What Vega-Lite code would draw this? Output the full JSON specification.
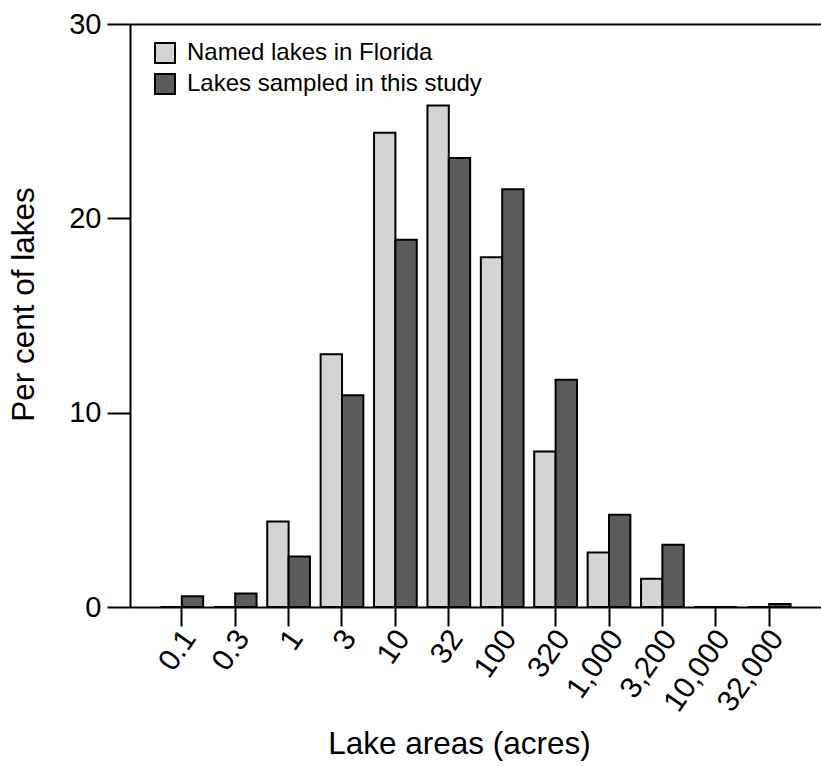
{
  "$schema": "https://vega.github.io/schema/vega-lite/v6.json",
  "width": 691,
  "height": 583,
  "autosize": {"type": "none"},
  "padding": {"left": 130, "top": 24, "right": 0, "bottom": 159},
  "config": {"view": {"stroke": null}, "font": "Liberation Sans"},
  "data": {
    "values": [
      {"area": "0.1", "series": "Named lakes in Florida", "percent": 0},
      {"area": "0.1", "series": "Lakes sampled in this study", "percent": 0.55},
      {"area": "0.3", "series": "Named lakes in Florida", "percent": 0},
      {"area": "0.3", "series": "Lakes sampled in this study", "percent": 0.7},
      {"area": "1", "series": "Named lakes in Florida", "percent": 4.4},
      {"area": "1", "series": "Lakes sampled in this study", "percent": 2.6},
      {"area": "3", "series": "Named lakes in Florida", "percent": 13.0},
      {"area": "3", "series": "Lakes sampled in this study", "percent": 10.9},
      {"area": "10", "series": "Named lakes in Florida", "percent": 24.4},
      {"area": "10", "series": "Lakes sampled in this study", "percent": 18.9},
      {"area": "32", "series": "Named lakes in Florida", "percent": 25.8},
      {"area": "32", "series": "Lakes sampled in this study", "percent": 23.1},
      {"area": "100", "series": "Named lakes in Florida", "percent": 18.0},
      {"area": "100", "series": "Lakes sampled in this study", "percent": 21.5},
      {"area": "320", "series": "Named lakes in Florida", "percent": 8.0},
      {"area": "320", "series": "Lakes sampled in this study", "percent": 11.7},
      {"area": "1,000", "series": "Named lakes in Florida", "percent": 2.8},
      {"area": "1,000", "series": "Lakes sampled in this study", "percent": 4.75},
      {"area": "3,200", "series": "Named lakes in Florida", "percent": 1.45},
      {"area": "3,200", "series": "Lakes sampled in this study", "percent": 3.2},
      {"area": "10,000", "series": "Named lakes in Florida", "percent": 0},
      {"area": "10,000", "series": "Lakes sampled in this study", "percent": 0},
      {"area": "32,000", "series": "Named lakes in Florida", "percent": 0},
      {"area": "32,000", "series": "Lakes sampled in this study", "percent": 0.15}
    ]
  },
  "mark": {"type": "bar", "stroke": "black", "strokeWidth": 2},
  "encoding": {
    "x": {
      "field": "area",
      "type": "ordinal",
      "sort": ["0.1", "0.3", "1", "3", "10", "32", "100", "320", "1,000", "3,200", "10,000", "32,000"],
      "scale": {"paddingInner": 0.2, "paddingOuter": 0.57},
      "axis": {
        "title": "Lake areas (acres)",
        "titleFontSize": 31.5,
        "titleFontWeight": "normal",
        "titleColor": "black",
        "titleX": 329,
        "titleY": 146,
        "titleBaseline": "alphabetic",
        "labelAngle": -55,
        "labelFontSize": 30,
        "labelColor": "black",
        "labelLimit": 300,
        "labelOverlap": false,
        "labelPadding": 7,
        "labelOffset": 8,
        "tickSize": 19,
        "tickWidth": 2,
        "tickColor": "black",
        "domainColor": "black",
        "domainWidth": 2
      }
    },
    "xOffset": {"field": "series", "sort": ["Named lakes in Florida", "Lakes sampled in this study"]},
    "y": {
      "field": "percent",
      "type": "quantitative",
      "scale": {"domain": [0, 30], "nice": false},
      "axis": {
        "title": "Per cent of lakes",
        "titleFontSize": 31.5,
        "titleFontWeight": "normal",
        "titleColor": "black",
        "titleX": -97,
        "titleY": 280,
        "titleBaseline": "alphabetic",
        "values": [0, 10, 20, 30],
        "labelFontSize": 29,
        "labelColor": "black",
        "labelPadding": 6,
        "tickSize": 23,
        "tickWidth": 2,
        "tickColor": "black",
        "domainColor": "black",
        "domainWidth": 2,
        "grid": true,
        "gridColor": "black",
        "gridWidth": 2,
        "gridOpacity": {"condition": {"test": "datum.value === 30", "value": 1}, "value": 0}
      }
    },
    "color": {
      "field": "series",
      "type": "nominal",
      "scale": {
        "domain": ["Named lakes in Florida", "Lakes sampled in this study"],
        "range": ["#d4d4d4", "#5b5b5b"]
      },
      "legend": {
        "title": null,
        "orient": "none",
        "legendX": 23,
        "legendY": 17,
        "padding": 0,
        "symbolType": "square",
        "symbolSize": 400,
        "symbolStrokeColor": "black",
        "symbolStrokeWidth": 2,
        "symbolOpacity": 1,
        "labelFontSize": 24,
        "labelColor": "black",
        "labelOffset": 10,
        "rowPadding": 3,
        "labelLimit": 400
      }
    }
  }
}
